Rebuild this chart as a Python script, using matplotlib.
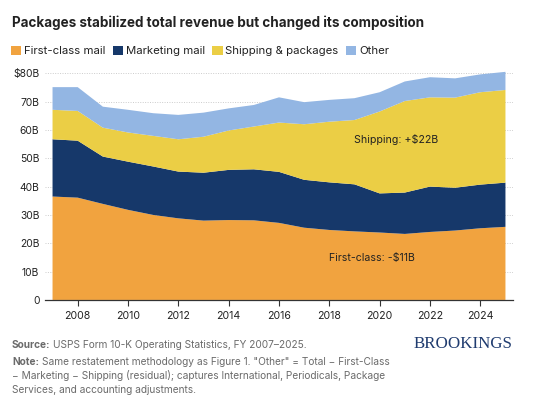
"""USPS revenue composition, stacked area (Brookings style)."""

import matplotlib.pyplot as plt
from matplotlib.patches import Patch

plt.rcParams["font.family"] = ["Inter", "DejaVu Sans"]

years = list(range(2007, 2026))
first_class = [36.5, 36.1, 33.9, 31.8, 30.0, 28.8, 28.0, 28.2, 28.1, 27.2,
               25.5, 24.7, 24.2, 23.8, 23.3, 24.0, 24.5, 25.3, 25.8]
marketing = [20.2, 20.1, 16.7, 17.0, 17.1, 16.5, 16.9, 17.7, 18.0, 18.0,
             16.9, 16.8, 16.6, 13.8, 14.6, 16.0, 15.1, 15.4, 15.6]
shipping = [10.4, 10.5, 10.2, 10.3, 10.8, 11.4, 12.7, 13.9, 15.1, 17.4,
            19.6, 21.4, 22.7, 28.9, 32.3, 31.5, 31.8, 32.6, 32.7]
other = [8.0, 8.4, 7.4, 8.0, 8.0, 8.6, 8.5, 7.8, 7.6, 8.9,
         7.8, 7.7, 7.7, 6.8, 6.9, 7.1, 6.8, 6.3, 6.4]

labels = ["First-class mail", "Marketing mail", "Shipping & packages", "Other"]
colors = ["#F1A33F", "#16386A", "#EBCE45", "#93B6E3"]
y_ticks = [0, 10, 20, 30, 40, 50, 60, 70, 80]
y_tick_labels = ["0", "10B", "20B", "30B", "40B", "50B", "60B", "70B", "$80B"]
x_ticks = list(range(2008, 2026, 2))

TEXT = "#222222"
GREY = "#6b6b6b"

fig = plt.figure(figsize=(5.42, 4.07), dpi=100)
ax = fig.add_axes([0.083, 0.263, 0.8635, 0.564])

ax.stackplot(years, first_class, marketing, shipping, other,
             colors=colors, linewidth=0, zorder=2)

ax.set_xlim(2006.7, 2025.3)
ax.set_ylim(0, 81)
ax.set_yticks(y_ticks)
ax.set_yticklabels(y_tick_labels)
ax.set_xticks(x_ticks)
ax.tick_params(axis="y", length=0, pad=4, labelsize=7.4, labelcolor=TEXT)
ax.tick_params(axis="x", length=4, width=0.8, color="#333333", pad=4,
               labelsize=7.6, labelcolor=TEXT)
ax.grid(axis="y", linestyle=(0, (1, 1.5)), color="#cccccc", linewidth=0.7, zorder=1)
for side in ["left", "right", "top"]:
    ax.spines[side].set_visible(False)
ax.spines["bottom"].set_color("#333333")
ax.spines["bottom"].set_linewidth(0.9)
ax.spines["bottom"].set_zorder(3)

ax.text(2020.67, 56.5, "Shipping: +$22B", ha="center", va="center",
        fontsize=7.6, color=TEXT, zorder=4)
ax.text(2019.7, 14.8, "First-class: -$11B", ha="center", va="center",
        fontsize=7.6, color=TEXT, zorder=4)

fig.text(0.022, 0.945, "Packages stabilized total revenue but changed its composition",
         fontsize=9.7, fontweight="bold", color=TEXT, va="center")

handles = [Patch(facecolor=c, edgecolor="none") for c in colors]
fig.legend(handles, labels, loc="center left", bbox_to_anchor=(0.02, 0.875),
           ncol=4, frameon=False, fontsize=8.2, handlelength=0.9,
           handleheight=0.9, handletextpad=0.25, columnspacing=0.65,
           borderaxespad=0, borderpad=0, labelcolor=TEXT)

NOTE_SIZE = 7.3
src = fig.text(0.022, 0.146, "Source:", fontsize=NOTE_SIZE, fontweight="bold",
               color=GREY, va="baseline")
ax.annotate("USPS Form 10-K Operating Statistics, FY 2007\u20132025.",
            xy=(1, 0), xycoords=src, xytext=(2, 0), textcoords="offset points",
            va="bottom", ha="left", fontsize=NOTE_SIZE, color=GREY,
            annotation_clip=False)

note = fig.text(0.022, 0.102, "Note:", fontsize=NOTE_SIZE, fontweight="bold",
                color=GREY, va="baseline")
ax.annotate("Same restatement methodology as Figure 1. \"Other\" = Total \u2212 First-Class",
            xy=(1, 0), xycoords=note, xytext=(2, 0), textcoords="offset points",
            va="bottom", ha="left", fontsize=NOTE_SIZE, color=GREY,
            annotation_clip=False)
fig.text(0.022, 0.068, "\u2212 Marketing \u2212 Shipping (residual); captures International, Periodicals, Package",
         fontsize=NOTE_SIZE, color=GREY, va="baseline")
fig.text(0.022, 0.034, "Services, and accounting adjustments.",
         fontsize=NOTE_SIZE, color=GREY, va="baseline")

fig.text(0.946, 0.146, "BROOKINGS", fontsize=12.2, color="#1f3b6f",
         family=["Liberation Serif", "DejaVu Serif"], ha="right", va="baseline")

fig.savefig("out.png", dpi=100, facecolor="white")
